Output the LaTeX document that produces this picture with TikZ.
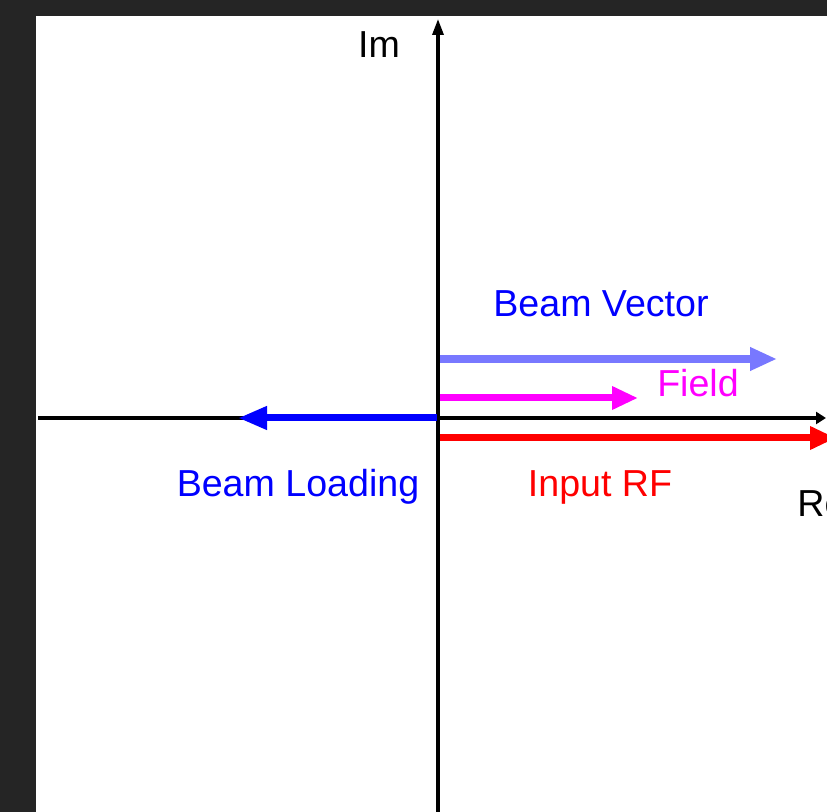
\documentclass[tikz,border=0pt]{standalone}
\usepackage{fontspec}
\setmainfont{Liberation Sans}
\usetikzlibrary{arrows.meta}
\definecolor{frame}{RGB}{37,37,37}
\definecolor{beamvec}{RGB}{120,120,255}
\definecolor{fieldpink}{RGB}{255,0,255}
\definecolor{rfred}{RGB}{255,0,0}
\definecolor{loadblue}{RGB}{0,0,255}

\begin{document}
\begin{tikzpicture}[x=0.5pt,y=-0.5pt,
  lbl/.style={font=\fontsize{18.8}{21}\selectfont, inner sep=0pt, anchor=base},
  vec/.style={line width=3.5pt, -{Triangle[length=13pt,width=11pt]}}]
\useasboundingbox (0,0) rectangle (827,812);
\fill[frame] (0,0) rectangle (827,812);
\fill[white] (36,16) rectangle (827,812);
\clip (0,0) rectangle (827,812);
% Axes
\coordinate (O) at (438,418);
\coordinate (xl) at (38,418);
\coordinate (xr) at (826,418);
\coordinate (yb) at (438,812);
\coordinate (yt) at (438,19);
\draw[line width=1.6pt,-{Triangle[length=5pt,width=6pt]}] (xl) -- (xr);
\draw[line width=1.6pt,-{Triangle[length=8pt,width=5.5pt]}] (yb) -- (yt);
% Vectors
\coordinate (bv0) at (440,359);
\coordinate (bv1) at (777,359);
\coordinate (fd0) at (440,398);
\coordinate (fd1) at (638,398);
\coordinate (rf0) at (440,438);
\coordinate (rf1) at (836,438);
\coordinate (bl0) at (437,418);
\coordinate (bl1) at (238,418);
\draw[vec,beamvec,line width=4pt,-{Triangle[length=13.5pt,width=11pt]}] (bv0) -- (bv1);
\draw[vec,fieldpink] (fd0) -- (fd1);
\draw[vec,rfred] (rf0) -- (rf1);
\draw[vec,loadblue,-{Triangle[length=14.5pt,width=11pt]}] (bl0) -- (bl1);
% Labels
\node[lbl] (lblIm) at (379,58) {Im};
\node[lbl,anchor=base west] (lblRe) at (797,517) {Re};
\node[lbl,loadblue] (lblBV) at (601,317) {Beam Vector};
\node[lbl,fieldpink] (lblFd) at (698,397) {Field};
\node[lbl,loadblue] (lblBL) at (298,497) {Beam Loading};
\node[lbl,rfred] (lblRF) at (600,497) {Input RF};
\end{tikzpicture}
\end{document}
